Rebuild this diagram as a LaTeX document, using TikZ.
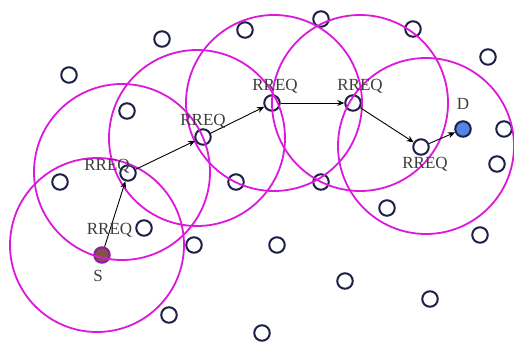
\documentclass[tikz,border=0pt]{standalone}
\usepackage{fontspec}
\setmainfont{Liberation Serif}
\usetikzlibrary{arrows.meta}
\definecolor{ring}{RGB}{220,24,220}
\definecolor{nodeline}{RGB}{30,32,72}
\definecolor{txt}{RGB}{60,60,60}
\definecolor{srcfill}{RGB}{128,84,70}
\definecolor{dstfill}{RGB}{84,132,232}
\begin{document}
\begin{tikzpicture}[x=1pt,y=-1pt,
  host/.style={circle,draw=nodeline,line width=2pt,fill=white,minimum size=15.5pt,inner sep=0pt},
  srcnode/.style={host,fill=srcfill,draw=ring!60!nodeline},
  dstnode/.style={host,fill=dstfill},
  rangering/.style={draw=ring,line width=1.8pt},
  msg/.style={draw=black,line width=0.9pt,-{Stealth[length=7pt,width=6pt]}},
  lbl/.style={text=txt,font=\fontsize{17}{17}\selectfont,inner sep=0pt}]
\useasboundingbox (0,0) rectangle (514,342);
% other hosts
\foreach \n/\x/\y in {h1/162/39,h2/69/75,h3/127/111,h4/245/30,h5/321/19,h6/413/29,h7/488/57,
  h8/504/129,h9/497/164,h10/60/182,h11/236/182,h12/321/182,h13/387/208,h14/480/235,
  h15/144/228,h16/194/245,h17/277/245,h18/345/281,h19/430/299,h20/169/315,h21/262/333}
  \node[host] (\n) at (\x,\y) {};
% route nodes
\node[srcnode] (S) at (102,255) {};
\node[host] (R1) at (128,173) {};
\node[host] (R2) at (203,137) {};
\node[host] (R3) at (272,103) {};
\node[host] (R4) at (353,103) {};
\node[host] (R5) at (421,147) {};
\node[dstnode] (D) at (463,129) {};
% transmission ranges
\draw[rangering] (97,245) circle (87);
\draw[rangering] (122,172) circle (88);
\draw[rangering] (197,138) circle (88);
\draw[rangering] (274,103) circle (88);
\draw[rangering] (360,103) circle (88);
\draw[rangering] (426,146) circle (88);
% messages
\draw[msg] (S) -- (R1);
\draw[msg] (R1) -- (R2);
\draw[msg] (R2) -- (R3);
\draw[msg] (R3) -- (R4);
\draw[msg] (R4) -- (R5);
\draw[msg] (R5) -- (D);
% labels
\node[lbl] (l0) at (109.5,230) {RREQ};
\node[lbl] (l1) at (107,166) {RREQ};
\node[lbl] (l2) at (203,121) {RREQ};
\node[lbl] (l3) at (275,86) {RREQ};
\node[lbl] (l4) at (360,86) {RREQ};
\node[lbl] (l5) at (425,164) {RREQ};
\node[lbl] (lD) at (463,104) {D};
\node[lbl] (lS) at (98,276) {S};
\end{tikzpicture}
\end{document}
